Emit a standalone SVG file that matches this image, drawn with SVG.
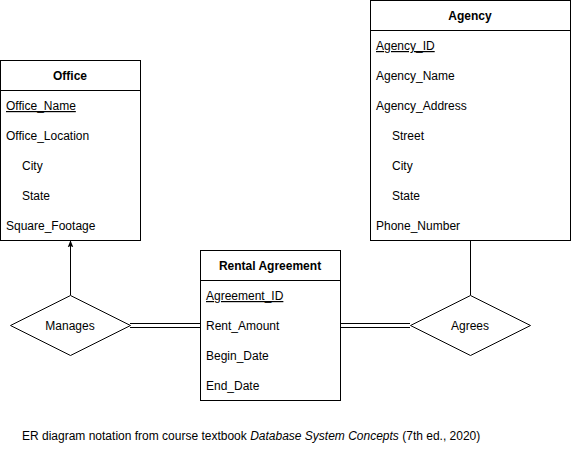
<svg xmlns="http://www.w3.org/2000/svg" width="571" height="451" viewBox="0 0 571 451">
<style>
.box{fill:#fff;stroke:#000;stroke-width:1}
.ln{fill:none;stroke:#000;stroke-width:1}
text{font-family:"Liberation Sans",Arial,sans-serif;font-size:12px;fill:#000}
.h{font-weight:bold;text-anchor:middle}
.c{text-anchor:middle}
.u{text-decoration:underline}
</style>
<defs>
<marker id="arr" viewBox="0 0 10 10" refX="9" refY="5" markerWidth="7" markerHeight="7" orient="auto" markerUnits="userSpaceOnUse">
<path d="M0,1 L10,5 L0,9 L2,5 Z" fill="#000"/>
</marker>
</defs>
<rect width="571" height="451" fill="#fff"/>
<g id="connectors">
<line class="ln" x1="70.5" y1="295" x2="70.5" y2="241" marker-end="url(#arr)"/>
<line class="ln" x1="470.5" y1="295" x2="470.5" y2="240"/>
<line class="ln" x1="130" y1="323.5" x2="200" y2="323.5"/>
<line class="ln" x1="130" y1="327.5" x2="200" y2="327.5"/>
<line class="ln" x1="340" y1="323.5" x2="410" y2="323.5"/>
<line class="ln" x1="340" y1="327.5" x2="410" y2="327.5"/>
</g>
<g id="office">
<rect class="box" x="0.5" y="60.5" width="140" height="180"/>
<line class="ln" x1="0.5" y1="90.5" x2="140.5" y2="90.5"/>
<text class="h" x="70" y="80">Office</text>
<text class="u" x="6" y="110">Office_Name</text>
<text x="6" y="140">Office_Location</text>
<text x="22" y="170">City</text>
<text x="22" y="200">State</text>
<text x="6" y="230">Square_Footage</text>
</g>
<g id="agency">
<rect class="box" x="370.5" y="0.5" width="200" height="240"/>
<line class="ln" x1="370.5" y1="30.5" x2="570.5" y2="30.5"/>
<text class="h" x="470" y="20">Agency</text>
<text class="u" x="376" y="50">Agency_ID</text>
<text x="376" y="80">Agency_Name</text>
<text x="376" y="110">Agency_Address</text>
<text x="392" y="140">Street</text>
<text x="392" y="170">City</text>
<text x="392" y="200">State</text>
<text x="376" y="230">Phone_Number</text>
</g>
<g id="rental">
<rect class="box" x="200.5" y="250.5" width="140" height="150"/>
<line class="ln" x1="200.5" y1="280.5" x2="340.5" y2="280.5"/>
<text class="h" x="270" y="270">Rental Agreement</text>
<text class="u" x="206" y="300">Agreement_ID</text>
<text x="206" y="330">Rent_Amount</text>
<text x="206" y="360">Begin_Date</text>
<text x="206" y="390">End_Date</text>
</g>
<g id="manages">
<polygon class="box" points="70.5,295.5 130.5,325.5 70.5,355.5 10.5,325.5"/>
<text class="c" x="70" y="329.5">Manages</text>
</g>
<g id="agrees">
<polygon class="box" points="470.5,295.5 530.5,325.5 470.5,355.5 410.5,325.5"/>
<text class="c" x="470" y="329.5">Agrees</text>
</g>
<text x="22" y="440">ER diagram notation from course textbook <tspan font-style="italic">Database System Concepts</tspan> (7th ed., 2020)</text>
</svg>
